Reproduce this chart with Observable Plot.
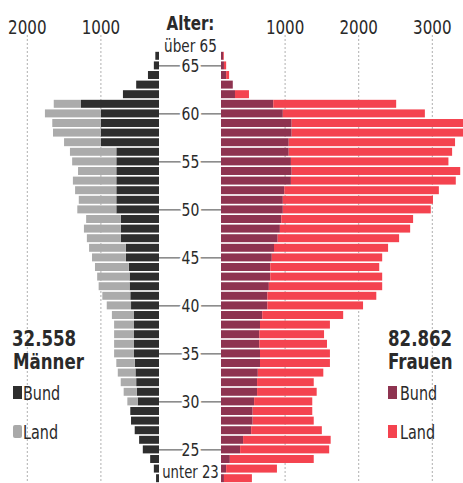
<!DOCTYPE html>
<html><head><meta charset="utf-8">
<script src="https://cdn.jsdelivr.net/npm/d3@7"></script>
<script src="https://cdn.jsdelivr.net/npm/@observablehq/plot@0.6"></script>
<style>
body{margin:0;background:#fff;overflow:hidden;}
#wrap{position:relative;width:463px;height:483px;overflow:hidden;font-family:"DejaVu Sans Condensed","DejaVu Sans",sans-serif;color:#2a2a2a;}
#left,#mid,#right{position:absolute;top:0;}
#left{left:0}#mid{left:159px}#right{left:221px}
.t{position:absolute;white-space:nowrap;line-height:1;transform:scaleX(0.84);transform-origin:left top;}
.big{font-weight:bold;font-size:22px;}
.leg{font-size:19px;}
.sw{position:absolute;width:9px;height:13px;}
</style></head>
<body><div id="wrap">
<div id="left"></div><div id="mid"></div><div id="right"></div>
<div class="t big" style="left:12px;top:328px">32.558</div>
<div class="t big" style="left:13px;top:351px">Männer</div>
<div class="sw" style="left:13px;top:386px;background:#2e2e2e"></div>
<div class="t leg" style="left:23px;top:384px">Bund</div>
<div class="sw" style="left:13px;top:425px;background:#a9a9a9;border-radius:2px"></div>
<div class="t leg" style="left:23px;top:423px">Land</div>
<div class="t big" style="left:388px;top:328px">82.862</div>
<div class="t big" style="left:388px;top:351px">Frauen</div>
<div class="sw" style="left:388px;top:386px;background:#8e3350"></div>
<div class="t leg" style="left:400px;top:384px">Bund</div>
<div class="sw" style="left:388px;top:425px;background:#f4434f"></div>
<div class="t leg" style="left:400px;top:423px">Land</div>
</div>
<script>
// Age groups, top to bottom
const ages = ["über 65","65","64","63","62","61","60","59","58","57","56","55","54","53","52","51","50","49","48","47","46","45","44","43","42","41","40","39","38","37","36","35","34","33","32","31","30","29","28","27","26","25","24","23","unter 23"];
const menBund = [50,70,150,310,490,1060,790,790,790,790,580,580,580,580,580,580,580,520,520,520,450,450,410,400,400,390,380,340,340,340,340,340,330,320,310,300,290,390,380,330,270,220,120,70,40];
const menLand = [0,0,0,0,0,370,760,660,650,500,630,600,520,590,560,510,530,470,500,460,500,460,460,440,420,380,330,300,270,270,270,270,250,240,210,180,140,0,0,0,0,0,0,0,0];
const womenBund = [30,40,70,160,190,710,840,960,960,920,920,950,960,950,860,840,840,820,800,770,720,690,670,670,650,630,630,560,530,520,520,530,530,500,490,490,450,430,430,410,300,260,120,70,40];
const womenLand = [10,30,40,0,190,1670,1930,2400,2380,2260,2220,2140,2290,2240,2100,2040,2010,1790,1770,1650,1550,1500,1480,1520,1540,1480,1300,1100,950,880,920,950,950,890,770,810,790,810,830,960,1190,1210,1140,690,380];
const menTicks = [1000, 2000];
const womenTicks = [1000, 2000, 3000];
const ageTicks = ["65","60","55","50","45","40","35","30","25"];
const types = ["Bund","Land"];

const PX = 0.0736; // pixels per person
const font = '"DejaVu Sans Condensed","DejaVu Sans",sans-serif';
const H = 483, TOP = 51;
const yOpt = {domain: ages, paddingInner: 0.17, paddingOuter: 0.085, round: false, axis: null};
const style = {fontFamily: font, color: "#2a2a2a", background: "transparent", overflow: "visible"};

function rows(bund, land) {
  const out = [];
  ages.forEach((a, i) => out.push({age: a, type: "Bund", value: bund[i]}));
  ages.forEach((a, i) => out.push({age: a, type: "Land", value: land[i]}));
  return out;
}
function narrow(svg) {
  d3.select(svg).selectAll("text").each(function() {
    const t = this.getAttribute("transform") || "";
    this.setAttribute("transform", t + " scale(0.84,1)");
  });
  return svg;
}

const left = Plot.plot({
  width: 159, height: H, marginTop: TOP, marginBottom: 0, marginLeft: 0, marginRight: 0,
  style,
  x: {domain: [0, 159 / PX], reverse: true, axis: null},
  y: yOpt,
  color: {domain: types, range: ["#2e2e2e", "#ababab"]},
  marks: [
    Plot.ruleX(menTicks, {x: d => d, insetTop: -16, stroke: "#b0b0b0", strokeDasharray: "2,2", dx: 15}),
    Plot.barX(rows(menBund, menLand), {y: "age", x: "value", fill: "type"}),
    Plot.axisX({anchor: "top", label: null, ticks: menTicks, tickSize: 0, tickPadding: 18, dx: 15, fontSize: 20, tickFormat: d => String(d)})
  ]
});
document.getElementById("left").append(narrow(left));

const right = Plot.plot({
  width: 242, height: H, marginTop: TOP, marginBottom: 0, marginLeft: 0, marginRight: 0,
  style,
  x: {domain: [0, 242 / PX], axis: null},
  y: yOpt,
  color: {domain: types, range: ["#8e3350", "#f4434f"]},
  marks: [
    Plot.ruleX(womenTicks, {x: d => d, insetTop: -16, stroke: "#b0b0b0", strokeDasharray: "2,2", dx: -10}),
    Plot.barX(rows(womenBund, womenLand), {y: "age", x: "value", fill: "type"}),
    Plot.axisX({anchor: "top", label: null, ticks: womenTicks, tickSize: 0, tickPadding: 18, dx: -10, fontSize: 20, tickFormat: d => String(d)})
  ]
});
document.getElementById("right").append(narrow(right));

const mid = Plot.plot({
  width: 62, height: H, marginTop: TOP, marginBottom: 0, marginLeft: 0, marginRight: 0,
  style,
  x: {domain: [0, 1], axis: null},
  y: yOpt,
  marks: [
    Plot.ruleY(ageTicks, {y: d => d, stroke: "#444", strokeWidth: 1}),
    Plot.text(ageTicks, {y: d => d, x: 0.5, text: d => d, fontSize: 18.5, fill: "#2a2a2a", stroke: "white", strokeWidth: 6, paintOrder: "stroke"}),
    Plot.text(["über 65"], {y: d => d, x: 0.5, text: d => d, dy: -10, fontSize: 18, fill: "#2a2a2a", stroke: "white", strokeWidth: 3, paintOrder: "stroke"}),
    Plot.text(["über 65"], {y: d => d, x: 0.5, text: () => "Alter:", dy: -33, fontSize: 20, fontWeight: "bold", fill: "#2a2a2a"}),
    Plot.text(["unter 23"], {y: d => d, x: 0.5, text: d => d, dy: -6, fontSize: 17.5, fill: "#2a2a2a"})
  ]
});
document.getElementById("mid").append(narrow(mid));
</script>
</body></html>
